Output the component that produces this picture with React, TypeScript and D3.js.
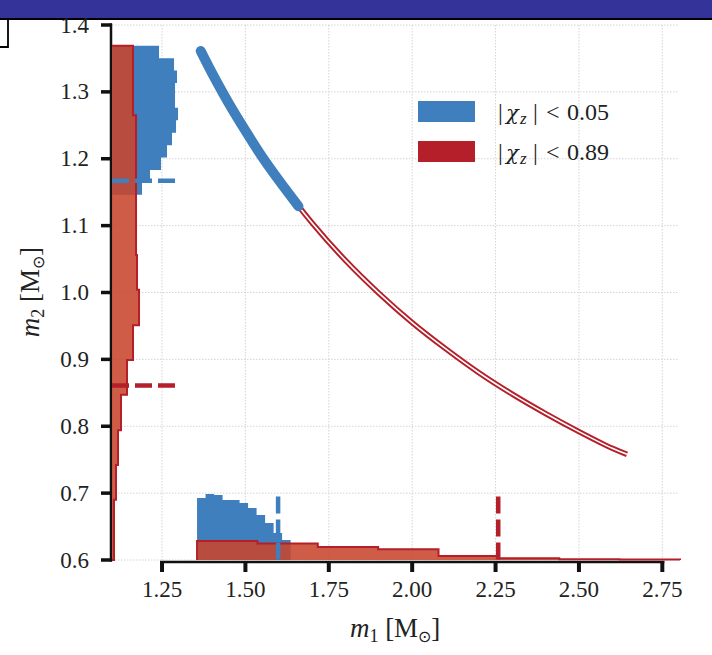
import React from "react";
import * as d3 from "d3";

// ---- data ----
const xTicks = [1.25, 1.5, 1.75, 2.0, 2.25, 2.5, 2.75];
const yTicks = [0.6, 0.7, 0.8, 0.9, 1.0, 1.1, 1.2, 1.3, 1.4];

// m2 marginal histograms (horizontal, drawn from the left axis edge)
const m2BlueEdges = [1.369, 1.3504, 1.3318, 1.3133, 1.2947, 1.2761, 1.2575, 1.2389, 1.2203, 1.2018, 1.1832, 1.1646, 1.146];
const m2BlueValues = [1.241, 1.286, 1.295, 1.289, 1.289, 1.298, 1.292, 1.28, 1.265, 1.247, 1.214, 1.19];
const m2RedEdges = [1.369, 1.317, 1.265, 1.213, 1.161, 1.108, 1.056, 1.004, 0.951, 0.899, 0.847, 0.794, 0.742, 0.69, 0.637, 0.6];
const m2RedValues = [1.163, 1.163, 1.172, 1.172, 1.172, 1.172, 1.175, 1.181, 1.163, 1.145, 1.127, 1.118, 1.112, 1.106, 1.106];

// m1 marginal histograms (vertical, drawn from the bottom axis edge)
const m1BlueEdges = [1.355, 1.3805, 1.406, 1.4315, 1.457, 1.4825, 1.508, 1.5335, 1.559, 1.5845, 1.61, 1.6355];
const m1BlueValues = [0.6927, 0.6987, 0.6972, 0.6897, 0.6897, 0.6852, 0.6778, 0.6673, 0.6554, 0.6404, 0.6299];
const m1RedEdges = [1.355, 1.536, 1.717, 1.898, 2.079, 2.26, 2.441, 2.622, 2.803];
const m1RedValues = [0.6284, 0.6247, 0.6194, 0.616, 0.606, 0.6025, 0.6012, 0.6006];

// posterior curve (m1, m2)
const blueCurveM1 = [1.366, 1.4, 1.45, 1.5, 1.55, 1.6, 1.659];
const blueCurveM2 = [1.361, 1.328, 1.283, 1.242, 1.203, 1.168, 1.129];
const redCurveM1 = [1.366, 1.4, 1.45, 1.5, 1.55, 1.6, 1.7, 1.8, 1.9, 2.0, 2.1, 2.2, 2.3, 2.4, 2.5, 2.6, 2.644];
const redCurveM2 = [1.361, 1.328, 1.283, 1.242, 1.203, 1.168, 1.104, 1.048, 0.999, 0.955, 0.916, 0.88, 0.848, 0.819, 0.792, 0.767, 0.758];

// medians (dashed markers)
const blueMedian = { m1: 1.598, m2: 1.167 };
const redMedian = { m1: 2.258, m2: 0.861 };
const markerM1Extent = 1.295;
const markerM2Extent = 0.695;

const legendLabels = ["0.05", "0.89"];

const BLUE = "#3f7fbd";
const RED_DARK = "#b41f2a";
const RED_FILL = "rgb(200,70,45)";
const FONT = "'Liberation Serif', 'Times New Roman', serif";

export default function App() {
  const x = d3.scaleLinear().domain([1.1, 2.8]).range([112, 679]);
  const y = d3.scaleLinear().domain([0.6, 1.4]).range([560, 25]);
  const line = d3.line<[number, number]>().x((p) => x(p[0])).y((p) => y(p[1]));
  const smooth = d3
    .line<[number, number]>()
    .x((p) => x(p[0]))
    .y((p) => y(p[1]))
    .curve(d3.curveCatmullRom);

  const hHist = (edges: number[], vals: number[], base: number) => {
    const pts: [number, number][] = [[base, edges[0]]];
    vals.forEach((v, i) => {
      pts.push([v, edges[i]]);
      pts.push([v, edges[i + 1]]);
    });
    pts.push([base, edges[edges.length - 1]]);
    return pts;
  };
  const vHist = (edges: number[], vals: number[], base: number) => {
    const pts: [number, number][] = [[edges[0], base]];
    vals.forEach((v, i) => {
      pts.push([edges[i], v]);
      pts.push([edges[i + 1], v]);
    });
    pts.push([edges[edges.length - 1], base]);
    return pts;
  };

  const blueLeft = hHist(m2BlueEdges, m2BlueValues, 1.1);
  const redLeft = hHist(m2RedEdges, m2RedValues, 1.1);
  const blueBottom = vHist(m1BlueEdges, m1BlueValues, 0.6);
  const redBottom = vHist(m1RedEdges, m1RedValues, 0.6);

  const blueCurve = blueCurveM1.map((m, i) => [m, blueCurveM2[i]] as [number, number]);
  const redCurve = redCurveM1.map((m, i) => [m, redCurveM2[i]] as [number, number]);

  const dash = "17,6";

  return (
    <svg
      width={712}
      height={655}
      style={{ position: "absolute", left: 0, top: 0, background: "#fff" }}
      fontFamily={FONT}
    >
      <rect x={0} y={0} width={712} height={655} fill="#fff" />
      {/* top band */}
      <rect x={0} y={0} width={712} height={18} fill="#333399" />
      <line x1={0} x2={712} y1={19} y2={19} stroke="#000" strokeWidth={2} />
      <path d="M0,47 H8 V19" fill="none" stroke="#000" strokeWidth={1.8} />

      {/* grid */}
      {xTicks.map((t) => (
        <line key={"gx" + t} x1={x(t)} x2={x(t)} y1={y(1.4)} y2={y(0.6)} stroke="#d4d4d4" strokeWidth={1} strokeDasharray="1.5,1.5" />
      ))}
      {yTicks.map((t) => (
        <line key={"gy" + t} x1={x(1.1)} x2={x(2.8)} y1={y(t)} y2={y(t)} stroke="#d4d4d4" strokeWidth={1} strokeDasharray="1.5,1.5" />
      ))}

      {/* spines and ticks */}
      <line x1={111} x2={111} y1={y(1.4) - 1.5} y2={y(0.6) + 1.5} stroke="#111" strokeWidth={2.5} />
      <line x1={x(1.25) - 2} x2={x(2.75) + 2} y1={562} y2={562} stroke="#111" strokeWidth={2.5} />
      {yTicks.map((t) => (
        <g key={"ty" + t}>
          <line x1={101} x2={112} y1={y(t)} y2={y(t)} stroke="#111" strokeWidth={3.5} />
          <text x={89} y={y(t) + 7.5} textAnchor="end" fontSize={23} fill="#222">
            {t.toFixed(1)}
          </text>
        </g>
      ))}
      {xTicks.map((t) => (
        <g key={"tx" + t}>
          <line x1={x(t)} x2={x(t)} y1={561} y2={572} stroke="#111" strokeWidth={4} />
          <text x={x(t)} y={597} textAnchor="middle" fontSize={23} fill="#222">
            {t.toFixed(2)}
          </text>
        </g>
      ))}

      {/* histograms */}
      <path d={line(blueLeft) + "Z"} fill={BLUE} />
      <path d={line(blueBottom) + "Z"} fill={BLUE} />
      <path d={line(redLeft) + "Z"} fill={RED_FILL} fillOpacity={0.88} />
      <path d={line(redBottom) + "Z"} fill={RED_FILL} fillOpacity={0.88} />
      <path d={line(redLeft) || ""} fill="none" stroke={RED_DARK} strokeWidth={2} />
      <path d={line(redBottom) || ""} fill="none" stroke={RED_DARK} strokeWidth={2} />

      {/* posterior curve */}
      <path d={smooth(redCurve) || ""} fill="none" stroke={RED_DARK} strokeWidth={5.5} strokeLinecap="butt" />
      <path d={smooth(redCurve) || ""} fill="none" stroke="#fff" strokeWidth={1.6} />
      <path d={smooth(blueCurve) || ""} fill="none" stroke={BLUE} strokeWidth={10} strokeLinecap="round" />

      {/* median markers */}
      <line x1={x(1.1)} x2={x(markerM1Extent)} y1={y(blueMedian.m2)} y2={y(blueMedian.m2)} stroke={BLUE} strokeWidth={4.5} strokeDasharray={dash} />
      <line x1={x(1.1)} x2={x(markerM1Extent)} y1={y(redMedian.m2)} y2={y(redMedian.m2)} stroke={RED_DARK} strokeWidth={4.5} strokeDasharray={dash} />
      <line x1={x(blueMedian.m1)} x2={x(blueMedian.m1)} y1={y(markerM2Extent)} y2={y(0.6)} stroke={BLUE} strokeWidth={4.5} strokeDasharray={dash} />
      <line x1={x(redMedian.m1)} x2={x(redMedian.m1)} y1={y(markerM2Extent)} y2={y(0.6)} stroke={RED_DARK} strokeWidth={4.5} strokeDasharray={dash} />

      {/* legend */}
      {legendLabels.map((lab, i) => {
        const cy = 111.5 + i * 40;
        return (
          <g key={lab}>
            <rect x={418} y={cy - 10.5} width={57} height={21} fill={i === 0 ? BLUE : RED_DARK} />
            <text y={cy + 8} fontSize={24} fill="#222">
              <tspan x={498}>|</tspan>
              <tspan x={506} fontStyle="italic" fontFamily="'DejaVu Serif', serif" fontSize={21}>χ</tspan>
              <tspan x={520} fontStyle="italic" fontSize={17} dy={4}>z</tspan>
              <tspan x={533} dy={-4}>|</tspan>
              <tspan x={546}>&lt;</tspan>
              <tspan x={567}>{lab}</tspan>
            </text>
          </g>
        );
      })}

      {/* axis labels */}
      <text x={395} y={637} textAnchor="middle" fontSize={27} fill="#222">
        <tspan fontStyle="italic">m</tspan>
        <tspan fontSize={18} dy={5}>1</tspan>
        <tspan dy={-5}> [M</tspan>
        <tspan fontSize={16} dy={5}>⊙</tspan>
        <tspan dy={-5}>]</tspan>
      </text>
      <text transform="translate(39,292) rotate(-90)" textAnchor="middle" fontSize={27} fill="#222">
        <tspan fontStyle="italic">m</tspan>
        <tspan fontSize={18} dy={5}>2</tspan>
        <tspan dy={-5}> [M</tspan>
        <tspan fontSize={16} dy={5}>⊙</tspan>
        <tspan dy={-5}>]</tspan>
      </text>
    </svg>
  );
}
